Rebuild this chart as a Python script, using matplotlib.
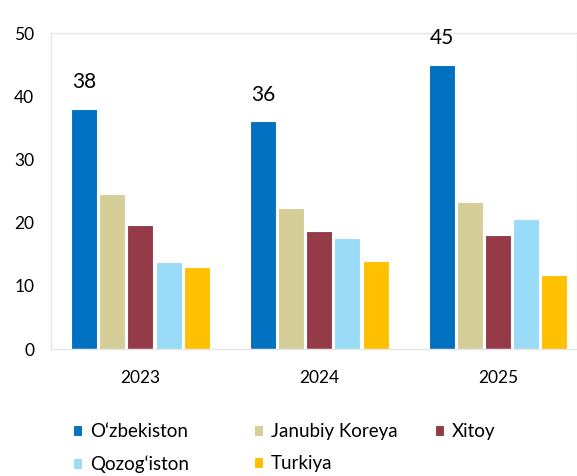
import numpy as np
import matplotlib.pyplot as plt

plt.rcParams['font.family'] = ['Lato', 'DejaVu Sans']

years = ["2023", "2024", "2025"]
series = ["O\u2018zbekiston", "Janubiy Koreya", "Xitoy", "Qozog\u2018iston", "Turkiya"]
uzbekiston = [38, 36, 45]
janubiy_koreya = [24.6, 22.3, 23.2]
xitoy = [19.6, 18.7, 18.0]
qozogiston = [13.7, 17.5, 20.6]
turkiya = [12.9, 14.0, 11.7]
colors = ["#0070C0", "#D5CE98", "#943B47", "#9ADBF7", "#FFC000"]

values = [uzbekiston, janubiy_koreya, xitoy, qozogiston, turkiya]

fig = plt.figure(figsize=(5.77, 4.76), dpi=100)
ax = fig.add_axes([51 / 577, 127 / 476, 526 / 577, 316 / 476])

x = np.arange(len(years))
step = 0.157
width = 0.145
bars = []
for i, (name, vals, c) in enumerate(zip(series, values, colors)):
    b = ax.bar(x + (i - 2) * step, vals, width, color=c, edgecolor="white",
               linewidth=0.8, label=name)
    bars.append(b)

# labels only on the first series
for rect, v in zip(bars[0], uzbekiston):
    ax.text(rect.get_x() + rect.get_width() / 2, v + 2.6, f"{v}",
            ha="center", va="bottom", fontsize=15)

ax.set_xlim(-0.5, 2.44)
ax.set_ylim(0, 50)
ax.set_yticks(range(0, 51, 10))
ax.set_xticks(x)
ax.set_xticklabels(years)
ax.tick_params(axis="both", length=0, labelsize=12.5)
ax.tick_params(axis="y", pad=12)
ax.tick_params(axis="x", pad=15)
for s in ax.spines.values():
    s.set_color("#e6e6e6")
    s.set_linewidth(1)

# legend laid out in fixed-width columns
cols = [[0, 3], [1, 4], [2]]
col_x = [73, 254, 435]
for cx, idx in zip(col_x, cols):
    fig.legend([bars[k] for k in idx], [series[k] for k in idx],
               loc="upper left", bbox_to_anchor=(cx / 577, 1 - 423 / 476),
               frameon=False, fontsize=13.5, handlelength=0.5, handleheight=0.5,
               handletextpad=0.4, labelspacing=0.8, borderpad=0, borderaxespad=0)

fig.savefig("out.png", dpi=100)
